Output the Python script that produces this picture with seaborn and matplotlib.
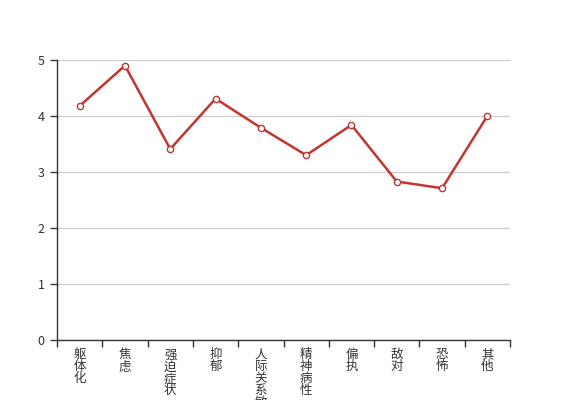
import seaborn as sns
import pandas as pd
import matplotlib.pyplot as plt
from matplotlib.ticker import FixedLocator

# SCL-90 factor scores
factors = ["躯体化", "焦虑", "强迫症状", "抑郁", "人际关系敏感",
           "精神病性", "偏执", "敌对", "恐怖", "其他"]
scores = [4.18, 4.90, 3.41, 4.31, 3.79, 3.30, 3.84, 2.83, 2.71, 4.00]
y_ticks = [0, 1, 2, 3, 4, 5]

LINE_COLOR = "#c23531"
TEXT_COLOR = "#333333"

sns.set_style("white")
plt.rcParams["font.family"] = ["Noto Sans CJK SC", "DejaVu Sans"]

df = pd.DataFrame({"factor": factors, "score": scores})

fig = plt.figure(figsize=(5.67, 4.0), dpi=100)
ax = fig.add_axes([57 / 567, 1 - 340 / 400, (510 - 57) / 567, 280 / 400])

sns.lineplot(data=df, x="factor", y="score", ax=ax, color=LINE_COLOR,
             linewidth=1.8, marker="o", markersize=4.5,
             markerfacecolor="white", markeredgecolor=LINE_COLOR,
             markeredgewidth=1.0, sort=False, zorder=3)

ax.set_xlim(-0.5, len(factors) - 0.5)
ax.set_ylim(0, 5)
ax.set_yticks(y_ticks)
ax.set_yticklabels([str(t) for t in y_ticks], fontsize=9, color=TEXT_COLOR)
ax.yaxis.grid(True, color="#cccccc", linewidth=0.9)
ax.set_axisbelow(True)

# category labels stacked vertically, tick marks on band boundaries
ax.set_xticks(range(len(factors)))
ax.set_xticklabels(["\n".join(f) for f in factors], fontsize=9,
                   color=TEXT_COLOR, linespacing=0.9, va="top")
ax.tick_params(axis="x", which="major", length=0, pad=6)
ax.xaxis.set_minor_locator(FixedLocator([i - 0.5 for i in range(len(factors) + 1)]))
ax.tick_params(axis="x", which="minor", length=5, width=1, color="#333333",
               direction="out", bottom=True)
ax.tick_params(axis="y", length=5, width=1, color="#333333", direction="out",
               left=True, pad=4)

ax.set_xlabel("")
ax.set_ylabel("")
for side in ["top", "right"]:
    ax.spines[side].set_visible(False)
for side in ["left", "bottom"]:
    ax.spines[side].set_color("#333333")
    ax.spines[side].set_linewidth(1)

fig.savefig("out.png", dpi=100)
